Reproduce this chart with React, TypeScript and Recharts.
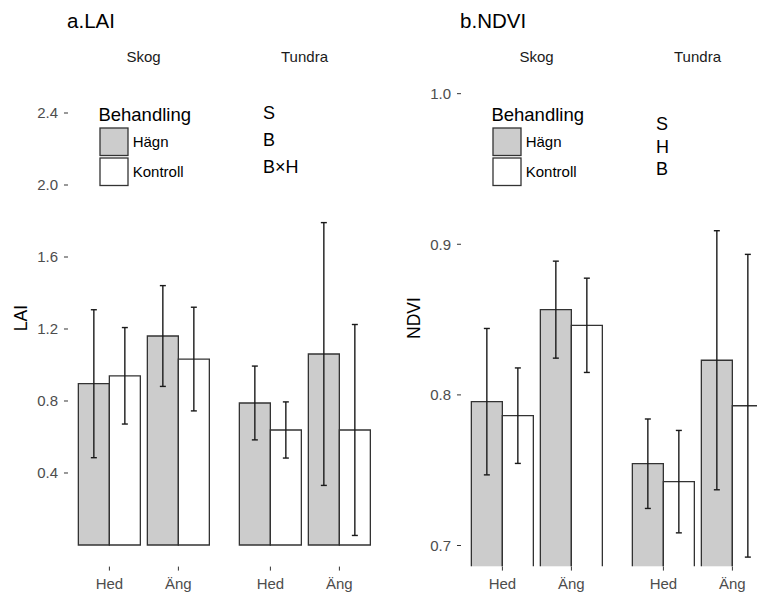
import { BarChart, Bar, XAxis, YAxis, ErrorBar, Legend, ReferenceDot } from 'recharts';

const GREY = '#CCCCCC';
const EDGE = '#333333';
const AXIS_TEXT = '#4D4D4D';
const FONT = '"Liberation Sans", Arial, sans-serif';

// categories / facets / treatments
const CATEGORIES = ['Hed', 'Äng'];
const FACETS = ['Skog', 'Tundra'];
const TREATMENTS = ['Hägn', 'Kontroll'];

// LAI means and error half-widths, per facet [Hed, Äng]
const LAI_SKOG_HAGN = [0.896, 1.161];
const LAI_SKOG_HAGN_ERR = [0.411, 0.28];
const LAI_SKOG_KONTROLL = [0.94, 1.033];
const LAI_SKOG_KONTROLL_ERR = [0.268, 0.288];
const LAI_TUNDRA_HAGN = [0.789, 1.061];
const LAI_TUNDRA_HAGN_ERR = [0.205, 0.73];
const LAI_TUNDRA_KONTROLL = [0.639, 0.639];
const LAI_TUNDRA_KONTROLL_ERR = [0.156, 0.586];
const LAI_TICKS = [0.4, 0.8, 1.2, 1.6, 2.0, 2.4];
const LAI_NOTES = ['S', 'B', 'B×H'];
const LAI_NOTE_Y = [2.4, 2.25, 2.1];

// NDVI
const NDVI_SKOG_HAGN = [0.7955, 0.8566];
const NDVI_SKOG_HAGN_ERR = [0.0486, 0.0322];
const NDVI_SKOG_KONTROLL = [0.7862, 0.8462];
const NDVI_SKOG_KONTROLL_ERR = [0.0317, 0.0313];
const NDVI_TUNDRA_HAGN = [0.7543, 0.823];
const NDVI_TUNDRA_HAGN_ERR = [0.0297, 0.086];
const NDVI_TUNDRA_KONTROLL = [0.7424, 0.7928];
const NDVI_TUNDRA_KONTROLL_ERR = [0.034, 0.1005];
const NDVI_TICKS = [0.7, 0.8, 0.9, 1.0];
const NDVI_NOTES = ['S', 'H', 'B'];
const NDVI_NOTE_Y = [0.98, 0.965, 0.95];

// layout
const H = 595;
const PLOT_TOP = 91.4;
const X_H = 28.4;
const PLOT_W = 151.8;
const PAD = 6.9;
const Y_W = 60;

function rows(hagn: number[], hagnErr: number[], kontroll: number[], kontrollErr: number[]) {
  return CATEGORIES.map((cat, i) => ({
    cat,
    hagn: hagn[i],
    hagnErr: hagnErr[i],
    kontroll: kontroll[i],
    kontrollErr: kontrollErr[i],
  }));
}

// bar cut off by the y limits: no bottom edge
function OpenBar(props: any) {
  const { x, y, width, height, fill } = props;
  if (height == null || isNaN(height)) return null;
  return (
    <g>
      <rect x={x} y={y} width={width} height={height} fill={fill} />
      <path
        d={`M${x},${y + height}V${y}H${x + width}V${y + height}`}
        fill="none"
        stroke={EDGE}
        strokeWidth={1.3}
      />
    </g>
  );
}

function LegendBox() {
  return (
    <svg width={140} height={86} style={{ overflow: 'visible' }}>
      <text x={0.4} y={16.5} fontSize={18.5} fill="#000">Behandling</text>
      {TREATMENTS.map((t, i) => (
        <g key={t}>
          <rect x={2} y={24 + i * 30} width={28} height={27.5} fill={i === 0 ? GREY : '#fff'} stroke={EDGE} strokeWidth={1.3} />
          <text x={34.7} y={38 + i * 30} dy="0.35em" fontSize={15} fill="#000">{t}</text>
        </g>
      ))}
    </svg>
  );
}

function Facet({ plotLeft, data, domain, ticks, showY, legend, notes, noteY, openBottom }: any) {
  const left = plotLeft - (showY ? Y_W : 0);
  const width = PLOT_W + (showY ? Y_W : 0);
  const shape = openBottom ? (p: any) => <OpenBar {...p} /> : undefined;
  return (
    <div style={{ position: 'absolute', left, top: 0 }}>
      <BarChart
        width={width}
        height={H}
        data={data}
        margin={{ top: PLOT_TOP, right: 0, bottom: 0, left: 0 }}
        barCategoryGap="5%"
        barGap={0}
      >
        <XAxis
          dataKey="cat"
          interval={0}
          padding={{ left: PAD, right: PAD }}
          height={X_H}
          axisLine={false}
          tickSize={4}
          tickMargin={8}
          tickLine={{ stroke: EDGE }}
          tick={{ fill: AXIS_TEXT, fontSize: 15 }}
        />
        <YAxis
          type="number"
          hide={!showY}
          width={Y_W}
          domain={domain}
          allowDataOverflow
          ticks={ticks}
          tickFormatter={(v: number) => v.toFixed(1)}
          axisLine={false}
          tickSize={4}
          tickMargin={6}
          tickLine={{ stroke: EDGE }}
          tick={{ fill: AXIS_TEXT, fontSize: 15 }}
        />
        {legend && (
          <Legend
            layout="vertical"
            align="center"
            verticalAlign="middle"
            wrapperStyle={{ left: Y_W + 30, top: 104, width: 140, height: 86 }}
            content={() => <LegendBox />}
          />
        )}
        <Bar dataKey="hagn" name={TREATMENTS[0]} fill={GREY} stroke={EDGE} strokeWidth={1.3} shape={shape} isAnimationActive={false}>
          <ErrorBar dataKey="hagnErr" width={3} stroke="#1A1A1A" strokeWidth={1.4} />
        </Bar>
        <Bar dataKey="kontroll" name={TREATMENTS[1]} fill="#FFFFFF" stroke={EDGE} strokeWidth={1.3} shape={shape} isAnimationActive={false}>
          <ErrorBar dataKey="kontrollErr" width={3} stroke="#1A1A1A" strokeWidth={1.4} />
        </Bar>
        {notes &&
          notes.map((n: string, i: number) => (
            <ReferenceDot
              key={n}
              x={CATEGORIES[0]}
              y={noteY[i]}
              r={0}
              fill="none"
              stroke="none"
              ifOverflow="visible"
              label={{ value: n, position: 'right', offset: -7.5, fontSize: 18, fill: '#000' }}
            />
          ))}
      </BarChart>
    </div>
  );
}

function Panel({ x0, title, yLabel, yLabelX, domain, ticks, skog, tundra, notes, noteY, openBottom }: any) {
  const skogLeft = x0;
  const tundraLeft = x0 + PLOT_W + 9.2;
  return (
    <>
      <svg width={757} height={H} style={{ position: 'absolute', left: 0, top: 0, pointerEvents: 'none' }}>
        <text x={x0 - 0.5} y={28.3} fontSize={20.5} fill="#000">{title}</text>
        <text x={skogLeft + PLOT_W / 2} y={62} textAnchor="middle" fontSize={15} fill="#1A1A1A">{FACETS[0]}</text>
        <text x={tundraLeft + PLOT_W / 2} y={62} textAnchor="middle" fontSize={15} fill="#1A1A1A">{FACETS[1]}</text>
        <text
          x={yLabelX}
          y={318}
          textAnchor="middle"
          dy="0.35em"
          fontSize={17.5}
          fill="#000"
          transform={`rotate(-90 ${yLabelX} 318)`}
        >
          {yLabel}
        </text>
      </svg>
      <Facet plotLeft={skogLeft} data={skog} domain={domain} ticks={ticks} showY legend openBottom={openBottom} />
      <Facet plotLeft={tundraLeft} data={tundra} domain={domain} ticks={ticks} notes={notes} noteY={noteY} openBottom={openBottom} />
    </>
  );
}

export default function App() {
  const laiSkog = rows(LAI_SKOG_HAGN, LAI_SKOG_HAGN_ERR, LAI_SKOG_KONTROLL, LAI_SKOG_KONTROLL_ERR);
  const laiTundra = rows(LAI_TUNDRA_HAGN, LAI_TUNDRA_HAGN_ERR, LAI_TUNDRA_KONTROLL, LAI_TUNDRA_KONTROLL_ERR);
  const ndviSkog = rows(NDVI_SKOG_HAGN, NDVI_SKOG_HAGN_ERR, NDVI_SKOG_KONTROLL, NDVI_SKOG_KONTROLL_ERR);
  const ndviTundra = rows(NDVI_TUNDRA_HAGN, NDVI_TUNDRA_HAGN_ERR, NDVI_TUNDRA_KONTROLL, NDVI_TUNDRA_KONTROLL_ERR);

  return (
    <div
      style={{
        position: 'fixed',
        left: 0,
        top: 0,
        width: 757,
        height: 595,
        overflow: 'hidden',
        background: '#fff',
        fontFamily: FONT,
      }}
    >
      <Panel
        x0={67.6}
        title="a.LAI"
        yLabel="LAI"
        yLabelX={20.5}
        domain={[-0.12, 2.52]}
        ticks={LAI_TICKS}
        skog={laiSkog}
        tundra={laiTundra}
        notes={LAI_NOTES}
        noteY={LAI_NOTE_Y}
      />
      <Panel
        x0={460.6}
        title="b.NDVI"
        yLabel="NDVI"
        yLabelX={414}
        domain={[0.686, 1.0015]}
        ticks={NDVI_TICKS}
        skog={ndviSkog}
        tundra={ndviTundra}
        notes={NDVI_NOTES}
        noteY={NDVI_NOTE_Y}
        openBottom
      />
    </div>
  );
}
